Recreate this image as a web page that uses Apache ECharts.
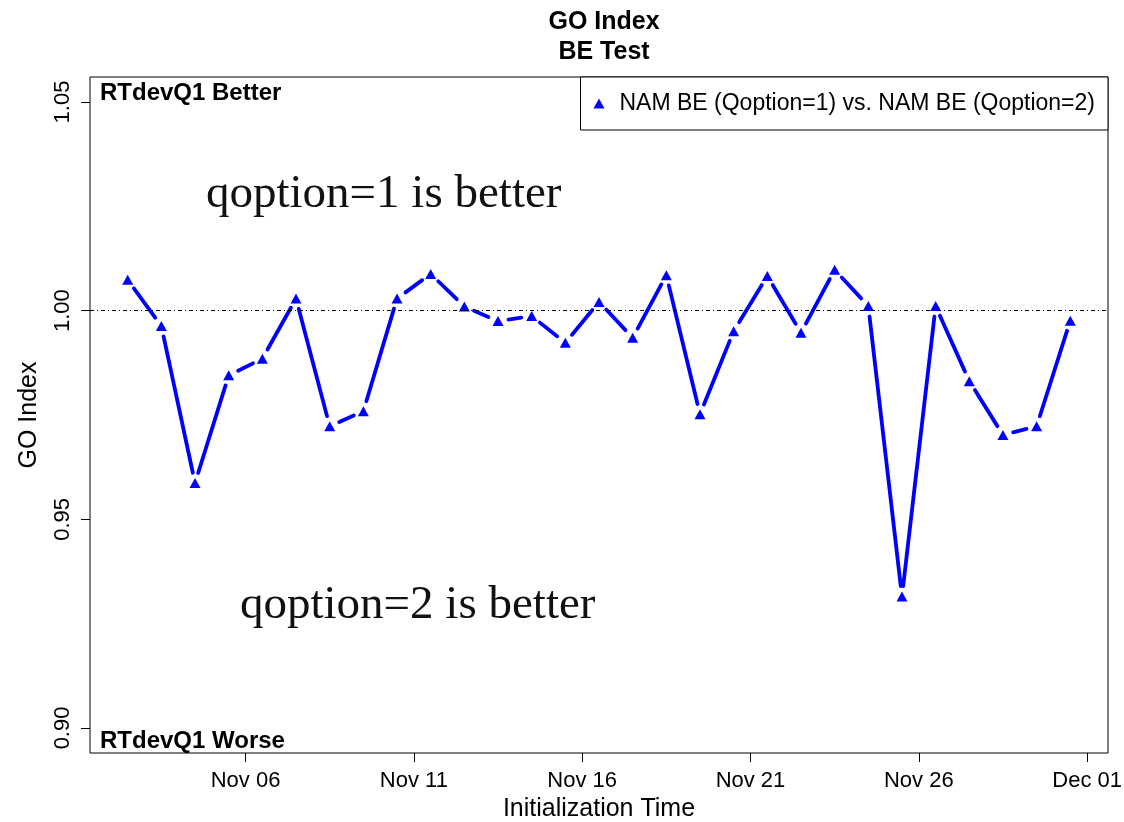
<!DOCTYPE html>
<html>
<head>
<meta charset="utf-8">
<title>GO Index - BE Test</title>
<script src="https://cdn.jsdelivr.net/npm/echarts@6/dist/echarts.min.js"></script>
<style>
  html, body { margin: 0; padding: 0; background: #fff; }
  #chart { width: 1124px; height: 822px; }
</style>
</head>
<body>
<div id="chart"></div>
<script>
// Initialization times (12Z each day) and the GO index at each of them
const initTimes = [
  '2013-11-02T12:00:00Z', '2013-11-03T12:00:00Z', '2013-11-04T12:00:00Z', '2013-11-05T12:00:00Z',
  '2013-11-06T12:00:00Z', '2013-11-07T12:00:00Z', '2013-11-08T12:00:00Z', '2013-11-09T12:00:00Z',
  '2013-11-10T12:00:00Z', '2013-11-11T12:00:00Z', '2013-11-12T12:00:00Z', '2013-11-13T12:00:00Z',
  '2013-11-14T12:00:00Z', '2013-11-15T12:00:00Z', '2013-11-16T12:00:00Z', '2013-11-17T12:00:00Z',
  '2013-11-18T12:00:00Z', '2013-11-19T12:00:00Z', '2013-11-20T12:00:00Z', '2013-11-21T12:00:00Z',
  '2013-11-22T12:00:00Z', '2013-11-23T12:00:00Z', '2013-11-24T12:00:00Z', '2013-11-25T12:00:00Z',
  '2013-11-26T12:00:00Z', '2013-11-27T12:00:00Z', '2013-11-28T12:00:00Z', '2013-11-29T12:00:00Z',
  '2013-11-30T12:00:00Z'
];
const goIndex = [
  1.0074, 0.9963, 0.9587, 0.9845, 0.9885, 1.0029, 0.9723, 0.9759,
  1.0029, 1.0088, 1.0010, 0.9975, 0.9987, 0.9923, 1.0021, 0.9935,
  1.0085, 0.9752, 0.9951, 1.0083, 0.9947, 1.0098, 1.0011, 0.9315,
  1.0011, 0.9831, 0.9702, 0.9723, 0.9976
];
const seriesName = 'NAM BE (Qoption=1) vs. NAM BE (Qoption=2)';

// Axis ticks
const xTickDates = ['2013-11-06T00:00:00Z', '2013-11-11T00:00:00Z', '2013-11-16T00:00:00Z',
                    '2013-11-21T00:00:00Z', '2013-11-26T00:00:00Z', '2013-12-01T00:00:00Z'];
const xTickLabels = ['Nov 06', 'Nov 11', 'Nov 16', 'Nov 21', 'Nov 26', 'Dec 01'];
const yTicks = [0.90, 0.95, 1.00, 1.05];
const yLimits = [0.90, 1.05];
const referenceLevel = 1.00;

const SANS = 'Liberation Sans, Arial, Helvetica, sans-serif';
const SERIF = 'Liberation Serif, Times New Roman, serif';
const BLUE = '#0000ff';

// Points as [time in ms, value]
const times = initTimes.map(t => Date.parse(t));
const points = times.map((t, i) => [t, goIndex[i]]);
// Segments between consecutive points, drawn with a gap at each end
const segments = [];
for (let i = 0; i < points.length - 1; i++) {
  segments.push([points[i][0], points[i][1], points[i + 1][0], points[i + 1][1]]);
}

// Axis ranges padded by 4% on each side
const tSpan = times[times.length - 1] - times[0];
const xMin = times[0] - 0.04 * tSpan;
const xMax = times[times.length - 1] + 0.04 * tSpan;
const ySpan = yLimits[1] - yLimits[0];
const yMin = yLimits[0] - 0.04 * ySpan;
const yMax = yLimits[1] + 0.04 * ySpan;
const xTickValues = xTickDates.map(d => Date.parse(d));

const chart = echarts.init(document.getElementById('chart'), null, { renderer: 'canvas' });

const option = {
  animation: false,
  backgroundColor: '#fff',
  title: {
    text: 'GO Index\nBE Test',
    left: 599,
    top: 2,
    textAlign: 'center',
    textStyle: { fontFamily: SANS, fontSize: 25, fontWeight: 'bold', color: '#000', lineHeight: 30 }
  },
  legend: {
    data: [{ name: seriesName, icon: 'triangle', itemStyle: { color: BLUE, opacity: 1 } }],
    right: 16,
    top: 77,
    itemWidth: 11,
    itemHeight: 10,
    padding: [15, 13, 15, 13],
    borderColor: '#000',
    borderWidth: 1,
    borderRadius: 0,
    backgroundColor: '#fff',
    textStyle: { fontFamily: SANS, fontSize: 23, color: '#000', padding: [0, 0, 0, 10] }
  },
  grid: {
    left: 90, right: 16, top: 77, bottom: 69,
    outerBoundsMode: 'none',
    containLabel: false,
    show: true, borderColor: '#000', borderWidth: 1, backgroundColor: 'transparent'
  },
  xAxis: {
    type: 'value',
    min: xMin,
    max: xMax,
    name: 'Initialization Time',
    nameLocation: 'middle',
    nameGap: 44,
    nameTextStyle: { fontFamily: SANS, fontSize: 25, color: '#000' },
    axisLine: { show: false },
    axisTick: { show: true, inside: false, length: 9, customValues: xTickValues,
                lineStyle: { color: '#000', width: 1 } },
    axisLabel: {
      customValues: xTickValues,
      fontFamily: SANS, fontSize: 22, color: '#000', margin: 17,
      formatter: v => {
        const k = xTickValues.indexOf(v);
        return k >= 0 ? xTickLabels[k] : '';
      }
    },
    splitLine: { show: false }
  },
  yAxis: {
    type: 'value',
    min: yMin,
    max: yMax,
    name: 'GO Index',
    nameLocation: 'middle',
    nameGap: 48,
    nameRotate: 90,
    nameTextStyle: { fontFamily: SANS, fontSize: 25, color: '#000' },
    axisLine: { show: false },
    axisTick: { show: true, inside: false, length: 9, customValues: yTicks,
                lineStyle: { color: '#000', width: 1 } },
    axisLabel: {
      customValues: yTicks,
      rotate: 90,
      fontFamily: SANS, fontSize: 22, color: '#000', margin: 16,
      formatter: v => v.toFixed(2)
    },
    splitLine: { show: false }
  },
  series: [
    {
      // connecting line, broken around each marker
      type: 'custom',
      name: 'segments',
      data: segments,
      encode: { x: [0, 2], y: [1, 3] },
      silent: true,
      z: 2,
      renderItem: function (params, api) {
        const p0 = api.coord([api.value(0), api.value(1)]);
        const p1 = api.coord([api.value(2), api.value(3)]);
        const dx = p1[0] - p0[0];
        const dy = p1[1] - p0[1];
        const len = Math.hypot(dx, dy);
        const gap = 10.5;
        if (len <= 2 * gap) return null;
        const ux = dx / len, uy = dy / len;
        return {
          type: 'line',
          shape: { x1: p0[0] + ux * gap, y1: p0[1] + uy * gap, x2: p1[0] - ux * gap, y2: p1[1] - uy * gap },
          style: { stroke: BLUE, lineWidth: 3.8, lineCap: 'round' }
        };
      }
    },
    {
      type: 'scatter',
      name: seriesName,
      data: points,
      symbol: 'triangle',
      symbolSize: [11, 10],
      itemStyle: { color: BLUE, opacity: 1 },
      z: 3,
      markLine: {
        silent: true,
        symbol: ['none', 'none'],
        label: { show: false },
        lineStyle: { color: '#000', width: 1, type: [4, 3, 1, 3] },
        data: [{ yAxis: referenceLevel }]
      }
    }
  ],
  graphic: [
    { type: 'text', left: 100, top: 81, z: 10,
      style: { text: 'RTdevQ1 Better', fontFamily: SANS, fontSize: 24, fontWeight: 'bold', fill: '#000' } },
    { type: 'text', left: 100, top: 729, z: 10,
      style: { text: 'RTdevQ1 Worse', fontFamily: SANS, fontSize: 24, fontWeight: 'bold', fill: '#000' } },
    { type: 'text', left: 206, top: 171, z: 10,
      style: { text: 'qoption=1 is better', fontFamily: SERIF, fontSize: 47, fill: '#111' } },
    { type: 'text', left: 240, top: 582, z: 10,
      style: { text: 'qoption=2 is better', fontFamily: SERIF, fontSize: 47, fill: '#111' } }
  ]
};

chart.setOption(option);
</script>
</body>
</html>
